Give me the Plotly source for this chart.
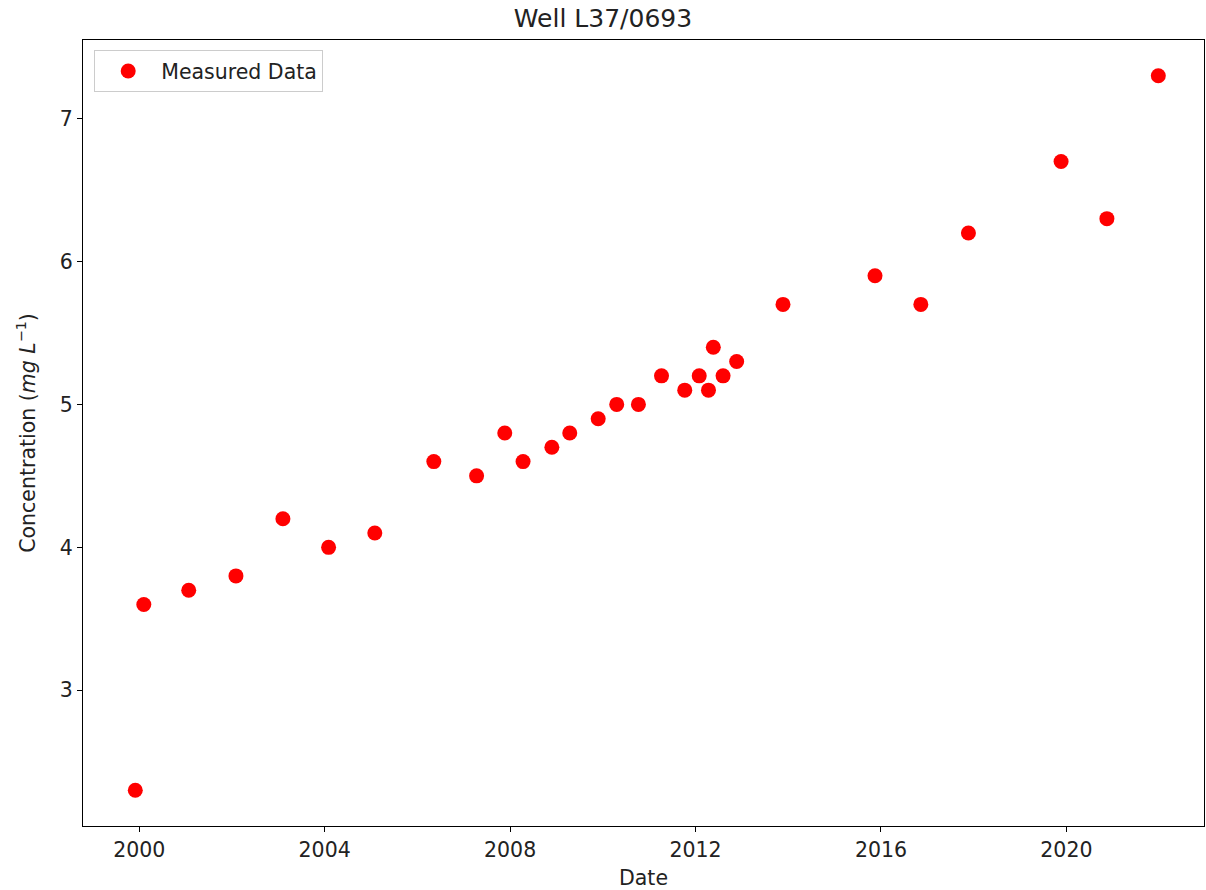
import plotly.graph_objects as go

# Sampling dates and measured concentrations for well L37/0693
dates = [
    "1999-12-01", "2000-02-06", "2001-01-25", "2002-02-01", "2003-02-06",
    "2004-02-01", "2005-01-30", "2006-05-10", "2007-04-12", "2007-11-20",
    "2008-04-12", "2008-11-25", "2009-04-15", "2009-11-25", "2010-04-20",
    "2010-10-08", "2011-04-08", "2011-10-08", "2012-01-30", "2012-04-12",
    "2012-05-20", "2012-08-05", "2012-11-20", "2013-11-20", "2015-11-15",
    "2016-11-10", "2017-11-20", "2019-11-20", "2020-11-15", "2021-12-25",
]
concentration = [
    2.3, 3.6, 3.7, 3.8, 4.2,
    4.0, 4.1, 4.6, 4.5, 4.8,
    4.6, 4.7, 4.8, 4.9, 5.0,
    5.0, 5.2, 5.1, 5.2, 5.1,
    5.4, 5.2, 5.3, 5.7, 5.9,
    5.7, 6.2, 6.7, 6.3, 7.3,
]

font = "DejaVu Sans, Arial, sans-serif"
ink = "#222222"
label_size = 20.5
title_size = 25

fig = go.Figure()
fig.add_trace(go.Scatter(
    x=dates, y=concentration, mode="markers", name="Measured Data",
    marker=dict(color="red", size=15, line=dict(width=0)),
))

axis_common = dict(
    showline=True, linecolor="black", linewidth=1.2, mirror=True,
    ticks="outside", ticklen=5, tickwidth=1, tickcolor="black",
    showgrid=False, zeroline=False,
    tickfont=dict(family=font, size=label_size, color=ink),
)

fig.update_layout(
    width=1206, height=890,
    margin=dict(l=83, r=2, t=40, b=64),
    paper_bgcolor="white", plot_bgcolor="white",
    title=dict(text="Well L37/0693", x=0.5, xanchor="center", y=0.98, yanchor="middle",
               font=dict(family=font, size=title_size, color=ink)),
    xaxis=dict(
        **axis_common, type="date",
        range=["1998-10-15", "2022-12-20"],
        tick0="2000-01-01", dtick="M48", tickformat="%Y",
        title=dict(text="Date", font=dict(family=font, size=label_size, color=ink), standoff=10),
    ),
    yaxis=dict(
        **axis_common,
        range=[2.05, 7.55], tick0=3, dtick=1,
        title=dict(text="Concentration (<i>mg L</i><sup>−1</sup>)",
                   font=dict(family=font, size=label_size, color=ink), standoff=18),
    ),
    legend=dict(
        x=0.01, y=0.987, xanchor="left", yanchor="top",
        bgcolor="rgba(255,255,255,0.8)", bordercolor="#cccccc", borderwidth=1,
        itemwidth=56,
        font=dict(family=font, size=label_size, color=ink),
    ),
    showlegend=True,
)

fig.write_html("out.html")
